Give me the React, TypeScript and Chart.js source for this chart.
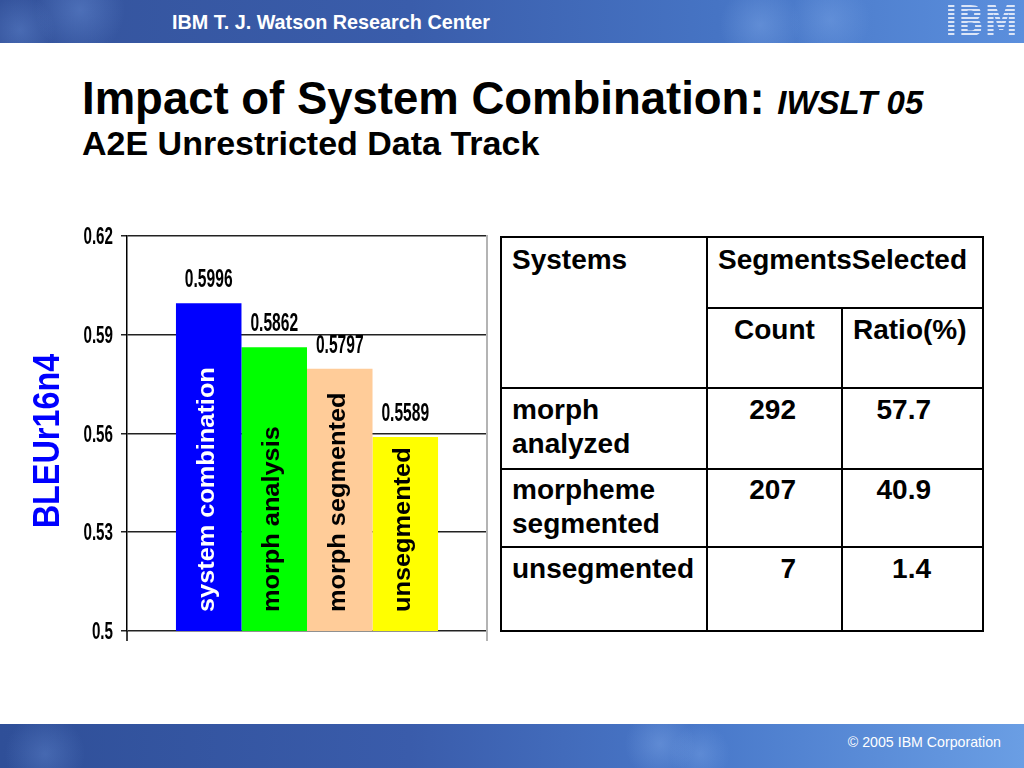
import React, { useEffect, useRef } from "react";
import { Chart, registerables } from "chart.js";

Chart.register(...registerables);

const FONT = "'Liberation Sans', Arial, Helvetica, sans-serif";

// ---- chart data ----
const systems = ["system combination", "morph analysis", "morph segmented", "unsegmented"];
const bleuScores = [0.5996, 0.5862, 0.5797, 0.5589];
const valueLabels = ["0.5996", "0.5862", "0.5797", "0.5589"];
const barColors = ["#0000ff", "#00ff00", "#ffcc99", "#ffff00"];
const barTextColors = ["#ffffff", "#000000", "#000000", "#000000"];
const yTicks = [0.5, 0.53, 0.56, 0.59, 0.62];
const yTickLabels = ["0.5", "0.53", "0.56", "0.59", "0.62"];
const yTitle = "BLEUr16n4";

// ---- table data ----
const tableSystems = [["morph", "analyzed"], ["morpheme", "segmented"], ["unsegmented"]];
const tableCounts = ["292", "207", "7"];
const tableRatios = ["57.7", "40.9", "1.4"];

const CANVAS_TOP = 200;

const overlayPlugin = {
  id: "overlay",
  afterDraw(chart: any) {
    const { ctx, chartArea, scales } = chart;
    const y = scales.y;
    ctx.save();
    // right border
    ctx.strokeStyle = "#b4b4b4";
    ctx.lineWidth = 2;
    ctx.beginPath();
    ctx.moveTo(chartArea.right, chartArea.top - 1);
    ctx.lineTo(chartArea.right, chartArea.bottom + 10);
    ctx.stroke();
    // left axis extension
    ctx.strokeStyle = "#000";
    ctx.lineWidth = 1.5;
    ctx.beginPath();
    ctx.moveTo(chartArea.left, chartArea.bottom);
    ctx.lineTo(chartArea.left, chartArea.bottom + 10);
    ctx.stroke();

    // tick labels (condensed)
    ctx.fillStyle = "#000";
    ctx.font = `bold 23px ${FONT}`;
    ctx.textAlign = "right";
    ctx.textBaseline = "alphabetic";
    yTicks.forEach((v, i) => {
      const py = y.getPixelForValue(v);
      ctx.save();
      ctx.translate(chartArea.left - 14, py + 8.2);
      ctx.scale(0.66, 1);
      ctx.fillText(yTickLabels[i], 0, 0);
      ctx.restore();
    });

    // axis title
    ctx.save();
    ctx.fillStyle = "#0000ff";
    ctx.font = `bold 36px ${FONT}`;
    ctx.textAlign = "center";
    ctx.translate(59, (chartArea.top + chartArea.bottom) / 2 + 7.5);
    ctx.rotate(-Math.PI / 2);
    ctx.scale(0.9, 1);
    ctx.fillText(yTitle, 0, 0);
    ctx.restore();

    // bar labels
    const basePx = y.getPixelForValue(yTicks[0]);
    systems.forEach((name, i) => {
      const meta = chart.getDatasetMeta(i);
      const bar = meta.data[0] as any;
      if (!bar) return;
      const bx = bar.x;
      const by = bar.y;
      // value label
      ctx.save();
      ctx.fillStyle = "#000";
      ctx.font = `bold 26px ${FONT}`;
      ctx.textAlign = "center";
      ctx.textBaseline = "alphabetic";
      ctx.translate(bx, by - 16);
      ctx.scale(0.6, 1);
      ctx.fillText(valueLabels[i], 0, 0);
      ctx.restore();
      // inner rotated text
      ctx.save();
      ctx.fillStyle = barTextColors[i];
      ctx.font = `bold 24px ${FONT}`;
      ctx.textAlign = "left";
      ctx.textBaseline = "alphabetic";
      ctx.translate(bx + 5, basePx - 19);
      ctx.rotate(-Math.PI / 2);
      ctx.scale(1.055, 1);
      ctx.fillText(name, 0, 0);
      ctx.restore();
    });
    ctx.restore();
  },
};

type TProps = {
  x: number;
  base: number;
  size: number;
  children: React.ReactNode;
  align?: "left" | "right";
  weight?: string;
  italic?: boolean;
  color?: string;
};

function T({ x, base, size, children, align = "left", weight = "bold", italic = false, color = "#000" }: TProps) {
  const style: React.CSSProperties = {
    position: "absolute",
    top: base - 0.8465 * size,
    fontSize: size,
    lineHeight: `${size}px`,
    fontWeight: weight as any,
    fontStyle: italic ? "italic" : "normal",
    color,
    whiteSpace: "nowrap",
    fontFamily: FONT,
  };
  if (align === "left") style.left = x;
  else style.right = 1024 - x;
  return <div style={style}>{children}</div>;
}

function Line({ x, y, w, h }: { x: number; y: number; w: number; h: number }) {
  return <div style={{ position: "absolute", left: x, top: y, width: w, height: h, background: "#000" }} />;
}

export default function App() {
  const ref = useRef<HTMLCanvasElement | null>(null);

  useEffect(() => {
    const canvas = ref.current!;
    const chart = new Chart(canvas, {
      type: "bar",
      data: {
        labels: [""],
        datasets: systems.map((s, i) => ({
          label: s,
          data: [bleuScores[i]],
          backgroundColor: barColors[i],
          borderWidth: 0,
          categoryPercentage: 0.728,
          barPercentage: 1,
        })),
      },
      options: {
        responsive: false,
        animation: false,
        layout: { padding: { top: 36, bottom: 29, left: 0, right: 13 } },
        plugins: {
          legend: { display: false },
          tooltip: { enabled: false },
          title: { display: false },
        },
        scales: {
          x: { display: false, offset: true },
          y: {
            min: 0.5,
            max: 0.62,
            afterBuildTicks: (s: any) => {
              s.ticks = yTicks.map((v) => ({ value: v }));
            },
            afterFit: (s: any) => {
              s.width = 127;
            },
            ticks: { display: false },
            grid: { color: "#222", lineWidth: 1.5, tickLength: 6, drawTicks: true },
            border: { display: true, color: "#000", width: 1.5 },
          },
        },
      } as any,
      plugins: [overlayPlugin],
    });
    return () => chart.destroy();
  }, []);

  const barBg =
    "radial-gradient(circle at 80px 10px, rgba(120,160,230,0.35) 0, rgba(120,160,230,0) 45px)," +
    "radial-gradient(circle at 20px 30px, rgba(120,160,230,0.3) 0, rgba(120,160,230,0) 35px)," +
    "radial-gradient(circle at 760px 25px, rgba(140,180,240,0.35) 0, rgba(140,180,240,0) 40px)," +
    "radial-gradient(circle at 830px 20px, rgba(140,180,240,0.3) 0, rgba(140,180,240,0) 40px)," +
    "linear-gradient(to right, #34539c 0%, #3a5dab 40%, #4674c4 70%, #5b8fdd 100%)";
  const footBg =
    "radial-gradient(circle at 45px 30px, rgba(120,160,230,0.3) 0, rgba(120,160,230,0) 40px)," +
    "radial-gradient(circle at 660px 20px, rgba(140,180,240,0.35) 0, rgba(140,180,240,0) 35px)," +
    "radial-gradient(circle at 700px 30px, rgba(140,180,240,0.3) 0, rgba(140,180,240,0) 30px)," +
    "linear-gradient(to right, #2f4f98 0%, #3a5cab 40%, #4a7acb 70%, #6a9ee4 100%)";

  return (
    <div
      style={{
        position: "fixed",
        left: 0,
        top: 0,
        width: 1024,
        height: 768,
        background: "#fff",
        overflow: "hidden",
        fontFamily: FONT,
      }}
    >
      {/* header */}
      <div style={{ position: "absolute", left: 0, top: 0, width: 1024, height: 43, background: barBg }} />
      <T x={172} base={30} size={19.8} color="#fff">
        IBM T. J. Watson Research Center
      </T>
      <div
        style={{
          position: "absolute",
          left: 945,
          top: 5,
          fontFamily: "'DejaVu Sans', sans-serif",
          fontWeight: "bold",
          fontSize: 43,
          lineHeight: "32px",
          height: 32,
          transform: "scaleX(0.78)",
          transformOrigin: "left top",
          color: "transparent",
          backgroundImage:
            "repeating-linear-gradient(to bottom, #dbe5f7 0px, #dbe5f7 2.4px, rgba(0,0,0,0) 2.4px, rgba(0,0,0,0) 4px)",
          WebkitBackgroundClip: "text",
          backgroundClip: "text",
          whiteSpace: "nowrap",
          letterSpacing: 1,
        }}
      >
        IBM
      </div>

      {/* title */}
      <div
        style={{
          position: "absolute",
          left: 82,
          top: 115 - 0.8465 * 46,
          fontSize: 45.5,
          lineHeight: "46px",
          fontWeight: "bold",
          whiteSpace: "nowrap",
          color: "#000",
        }}
      >
        Impact of System Combination: <span style={{ fontStyle: "italic", fontSize: 33 }}>IWSLT 05</span>
      </div>
      <T x={82} base={155} size={34}>
        A2E Unrestricted Data Track
      </T>

      {/* chart */}
      <canvas
        ref={ref}
        width={500}
        height={460}
        style={{ position: "absolute", left: 0, top: CANVAS_TOP, width: 500, height: 460 }}
      />

      {/* table */}
      <div
        style={{
          position: "absolute",
          left: 500,
          top: 236,
          width: 484,
          height: 396,
          border: "2px solid #000",
          boxSizing: "border-box",
        }}
      />
      <Line x={706} y={236} w={2} h={396} />
      <Line x={841} y={307} w={2} h={325} />
      <Line x={706} y={307} w={278} h={2} />
      <Line x={500} y={387} w={484} h={2} />
      <Line x={500} y={468} w={484} h={2} />
      <Line x={500} y={546} w={484} h={2} />

      <T x={512} base={270} size={28}>Systems</T>
      <T x={718} base={270} size={28}>SegmentsSelected</T>
      <T x={734} base={340} size={28}>Count</T>
      <T x={853} base={340} size={28}>Ratio(%)</T>
      {tableSystems.map((lines, r) => {
        const rowBase = [420, 500, 579][r];
        return (
          <React.Fragment key={r}>
            {lines.map((ln, k) => (
              <T key={k} x={512} base={rowBase + k * 34} size={28}>
                {ln}
              </T>
            ))}
            <T x={796} base={rowBase} size={28} align="right">
              {tableCounts[r]}
            </T>
            <T x={931} base={rowBase} size={28} align="right">
              {tableRatios[r]}
            </T>
          </React.Fragment>
        );
      })}

      {/* footer */}
      <div style={{ position: "absolute", left: 0, top: 724, width: 1024, height: 44, background: footBg }} />
      <T x={1001} base={747} size={14.2} weight="normal" color="#fff" align="right">
        © 2005 IBM Corporation
      </T>
    </div>
  );
}
